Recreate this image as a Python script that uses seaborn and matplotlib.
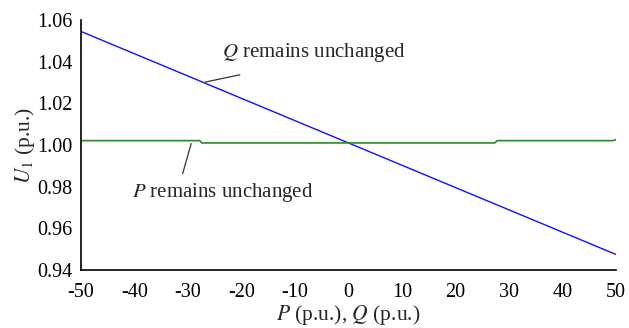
import matplotlib
matplotlib.use("Agg")
import matplotlib.pyplot as plt
import seaborn as sns
import pandas as pd

# data
q_x = [-50, -40, -30, -20, -10, 0, 10, 20, 30, 40, 50]
q_u = [1.0545, 1.0438, 1.0331, 1.0224, 1.0117, 1.0010, 0.9903, 0.9796, 0.9689, 0.9582, 0.9475]
p_x = [-50, -27.8, -27.4, 27.4, 27.8, 49.5, 50]
p_u = [1.0021, 1.0021, 1.0010, 1.0010, 1.0021, 1.0021, 1.0026]
x_ticks = [-50, -40, -30, -20, -10, 0, 10, 20, 30, 40, 50]
y_ticks = [0.94, 0.96, 0.98, 1.00, 1.02, 1.04, 1.06]

sns.set_style("white")
plt.rcParams['font.family'] = ['Liberation Serif', 'DejaVu Serif']
plt.rcParams['mathtext.fontset'] = 'stix'
plt.rcParams['axes.unicode_minus'] = False

fig = plt.figure(figsize=(6.29, 3.28), dpi=100)
ax = fig.add_axes([0.1288, 0.1768, 0.979 - 0.1288, 0.939 - 0.1768])

dq = pd.DataFrame({'x': q_x, 'u': q_u})
dp = pd.DataFrame({'x': p_x, 'u': p_u})
sns.lineplot(data=dq, x='x', y='u', ax=ax, color='#1010ff', linewidth=1.0)
sns.lineplot(data=dp, x='x', y='u', ax=ax, color='#2a8a2a', linewidth=1.2)

ax.set_xlim(-50, 50)
ax.set_ylim(0.94, 1.06)
ax.set_xticks(x_ticks)
ax.set_xticklabels([str(t) for t in x_ticks])
ax.set_yticks(y_ticks)
ax.set_yticklabels([f"{t:.2f}" for t in y_ticks])
ax.tick_params(direction='in', length=5, width=1, labelsize=14.5, colors='black')
ax.tick_params(axis='x', pad=9)
ax.tick_params(axis='y', pad=6)
for s in ['top', 'right']:
    ax.spines[s].set_visible(False)
for s in ['left', 'bottom']:
    ax.spines[s].set_color('black')
    ax.spines[s].set_linewidth(1.2)

ax.set_xlabel(r'$P$ (p.u.), $Q$ (p.u.)', fontsize=15.5, labelpad=1)
ax.set_ylabel(r'$U_1$ (p.u.)', fontsize=15.5, labelpad=0.5)

ax.plot([-26.8, -20.3], [1.0302, 1.0337], color='#333333', linewidth=0.9)
ax.text(-23.6, 1.0446, r'$Q$ remains unchanged', fontsize=15, va='center', ha='left')
ax.plot([-29.4, -31.0], [1.0007, 0.9862], color='#333333', linewidth=0.9)
ax.text(-40.4, 0.9770, r'$P$ remains unchanged', fontsize=15, va='center', ha='left')

fig.savefig('out.png', dpi=100)
